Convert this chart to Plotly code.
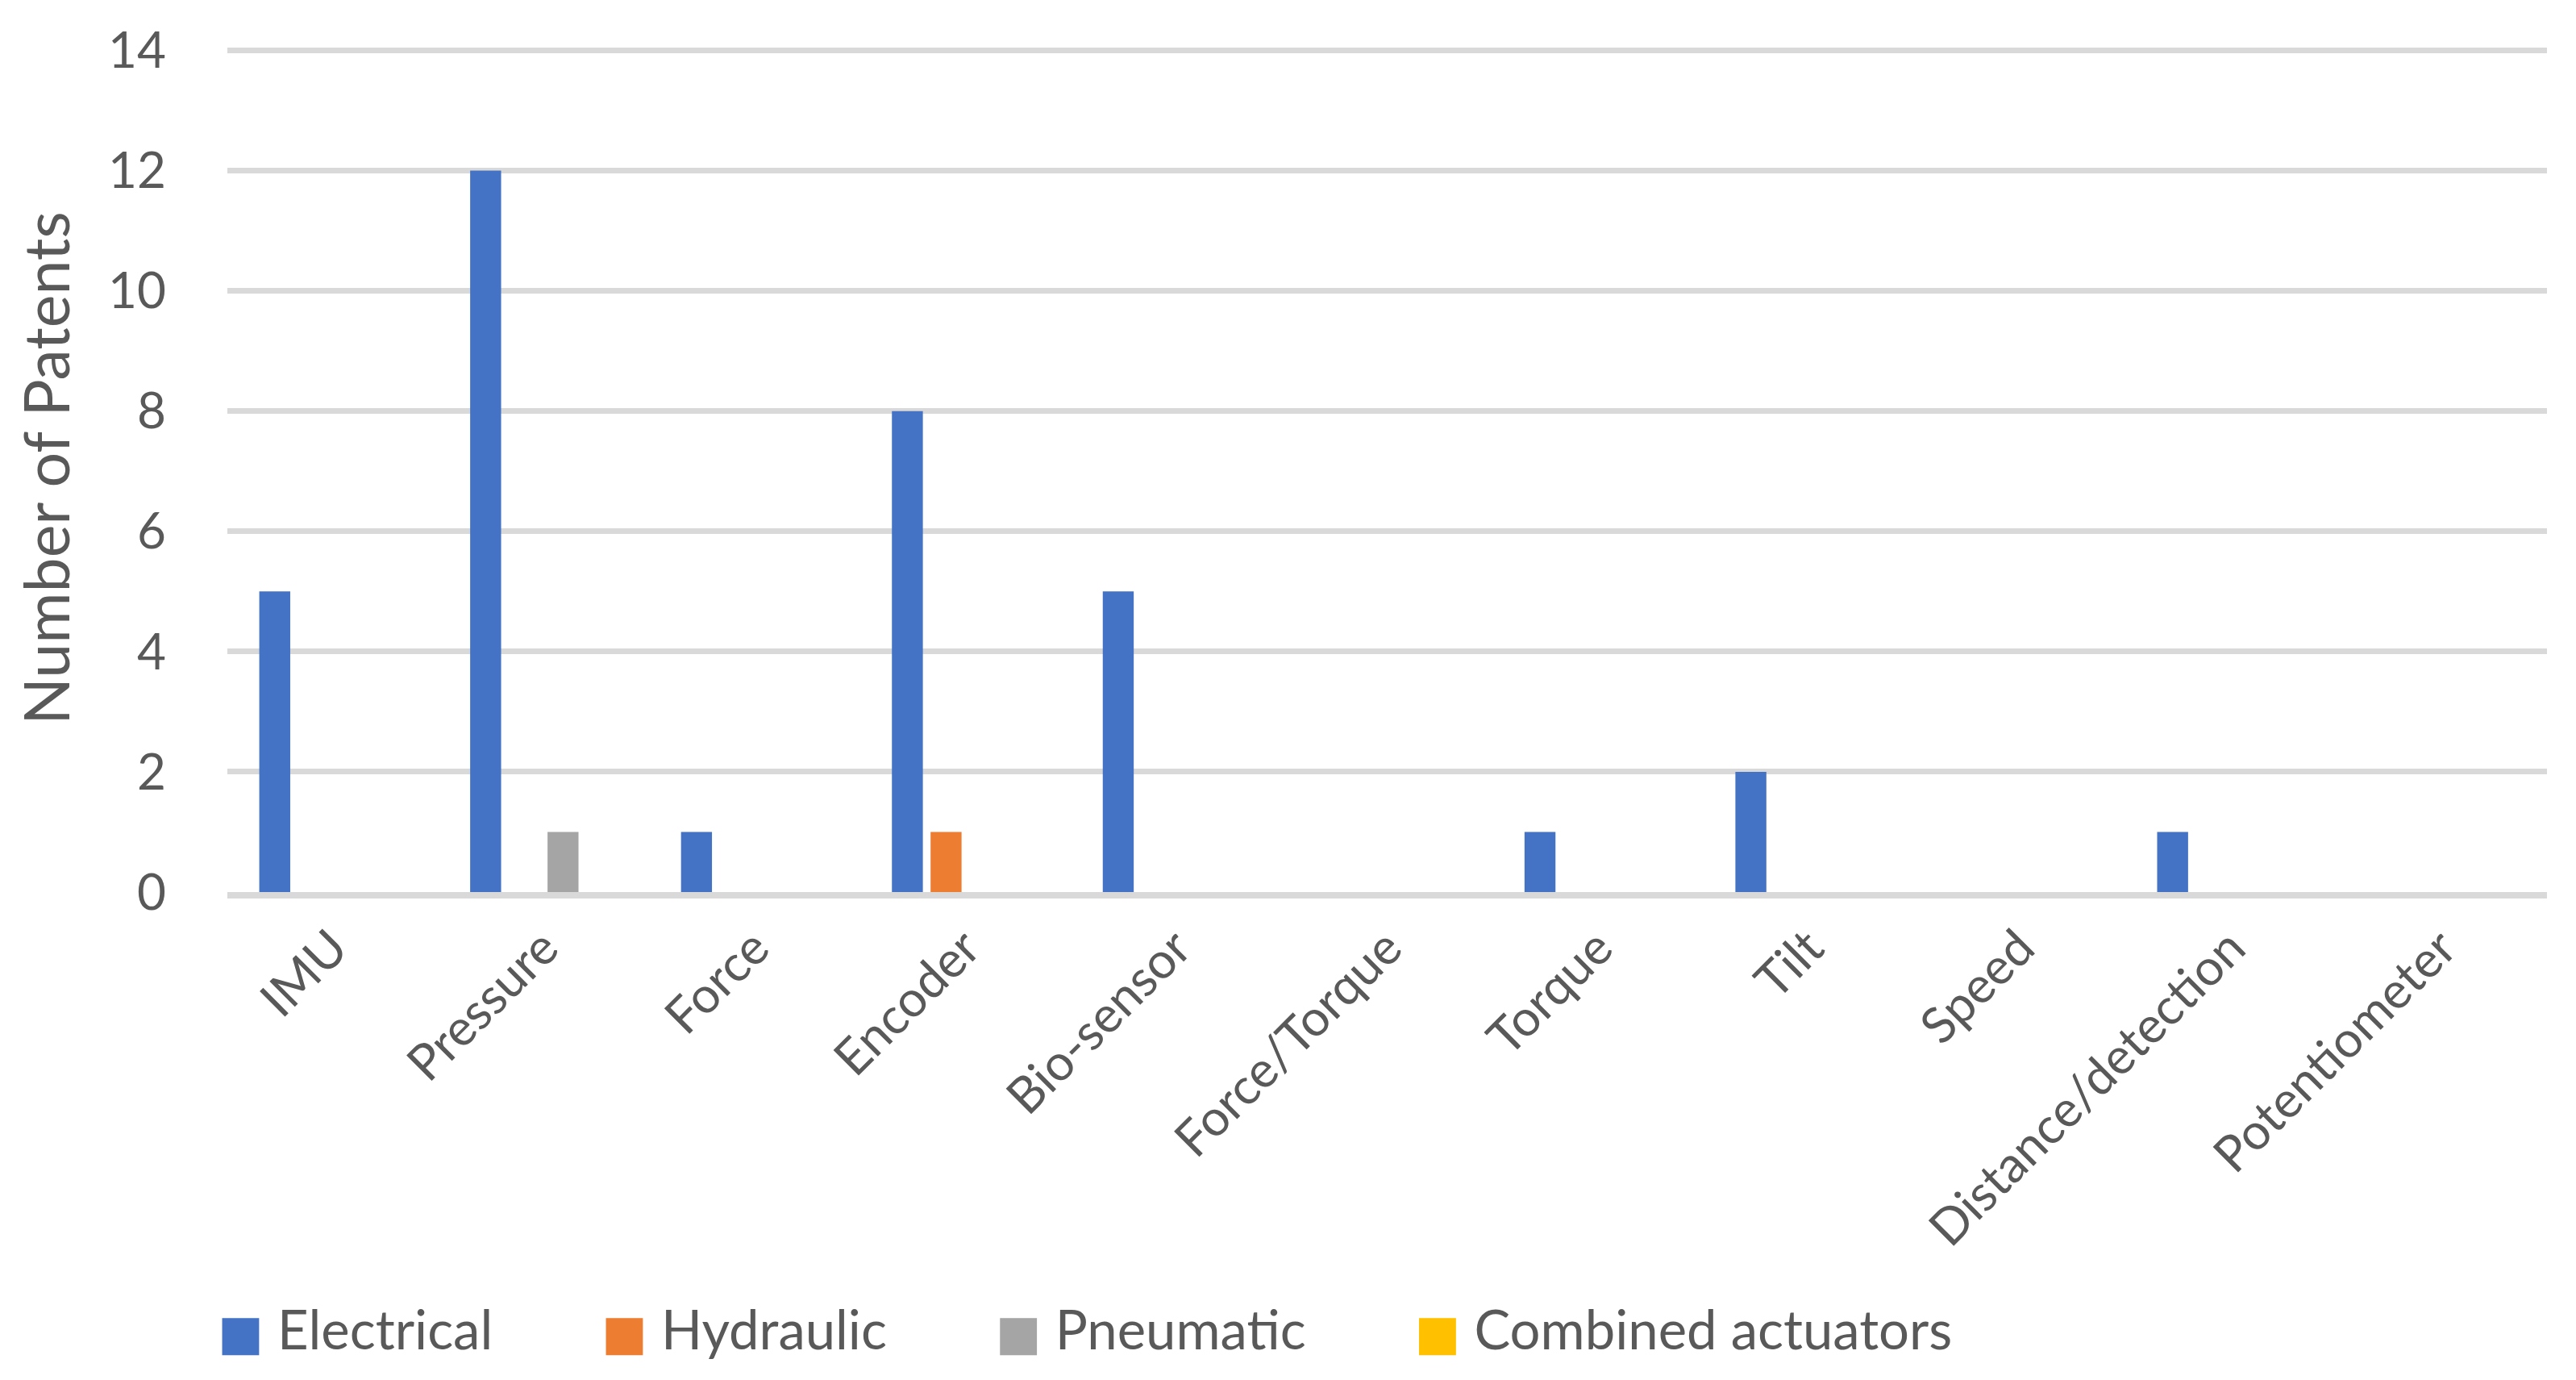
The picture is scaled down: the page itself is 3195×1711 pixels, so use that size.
import plotly.graph_objects as go

categories = ["IMU", "Pressure", "Force", "Encoder", "Bio-sensor", "Force/Torque",
              "Torque", "Tilt", "Speed", "Distance/detection", "Potentiometer"]
electrical = [5, 12, 1, 8, 5, 0, 1, 2, 0, 1, 0]
hydraulic = [0, 0, 0, 1, 0, 0, 0, 0, 0, 0, 0]
pneumatic = [0, 1, 0, 0, 0, 0, 0, 0, 0, 0, 0]
combined = [0, 0, 0, 0, 0, 0, 0, 0, 0, 0, 0]

series_names = ["Electrical", "Hydraulic", "Pneumatic", "Combined actuators"]
series_values = [electrical, hydraulic, pneumatic, combined]
series_colors = ["#4472C4", "#ED7D31", "#A5A5A5", "#FFC000"]
y_ticks = [0, 2, 4, 6, 8, 10, 12, 14]

FONT = "Lato"
TXT = "#595959"
GRID = "#D9D9D9"
PAD = "\u00a0" * 5 + "\u200a"

fig = go.Figure()
for name, vals, col in zip(series_names, series_values, series_colors):
    fig.add_trace(go.Bar(x=categories, y=vals, name=name, marker_color=col,
                         marker_line_width=0, showlegend=False))
# legend entries with large square swatches
for i, (name, col) in enumerate(zip(series_names, series_colors)):
    label = f"<span style='color:{col};font-family:DejaVu Sans;font-size:60px'>■</span> {name}"
    if i < len(series_names) - 1:
        label += PAD
    fig.add_trace(go.Scatter(
        x=[None], y=[None], mode="markers",
        marker=dict(color="rgba(0,0,0,0)", size=1),
        name=label, showlegend=True))

fig.update_layout(
    width=3195, height=1711,
    paper_bgcolor="white", plot_bgcolor="white",
    margin=dict(l=274, r=44, t=47, b=613),
    barmode="group", bargap=0.266, bargroupgap=0.2,
    font=dict(family=FONT, size=62, color=TXT),
    legend=dict(orientation="h", x=-0.018, xanchor="left", y=-0.515, yanchor="middle",
                font=dict(family=FONT, size=67, color=TXT),
                itemwidth=30, tracegroupgap=0, traceorder="normal"),
    xaxis=dict(type="category", tickangle=-45, showgrid=False,
               showline=True, linecolor=GRID, linewidth=8,
               ticks="", tickfont=dict(family=FONT, size=62, color=TXT)),
    yaxis=dict(range=[0, 14.1], tickvals=y_ticks, showgrid=True, gridcolor=GRID,
               gridwidth=7, zeroline=False, showline=False, ticks="",
               ticklabelstandoff=75,
               tickfont=dict(family=FONT, size=62, color=TXT),
               title=dict(text="Number of Patents", standoff=22,
                          font=dict(family=FONT, size=77, color=TXT))),
)

fig.write_html("out.html")
